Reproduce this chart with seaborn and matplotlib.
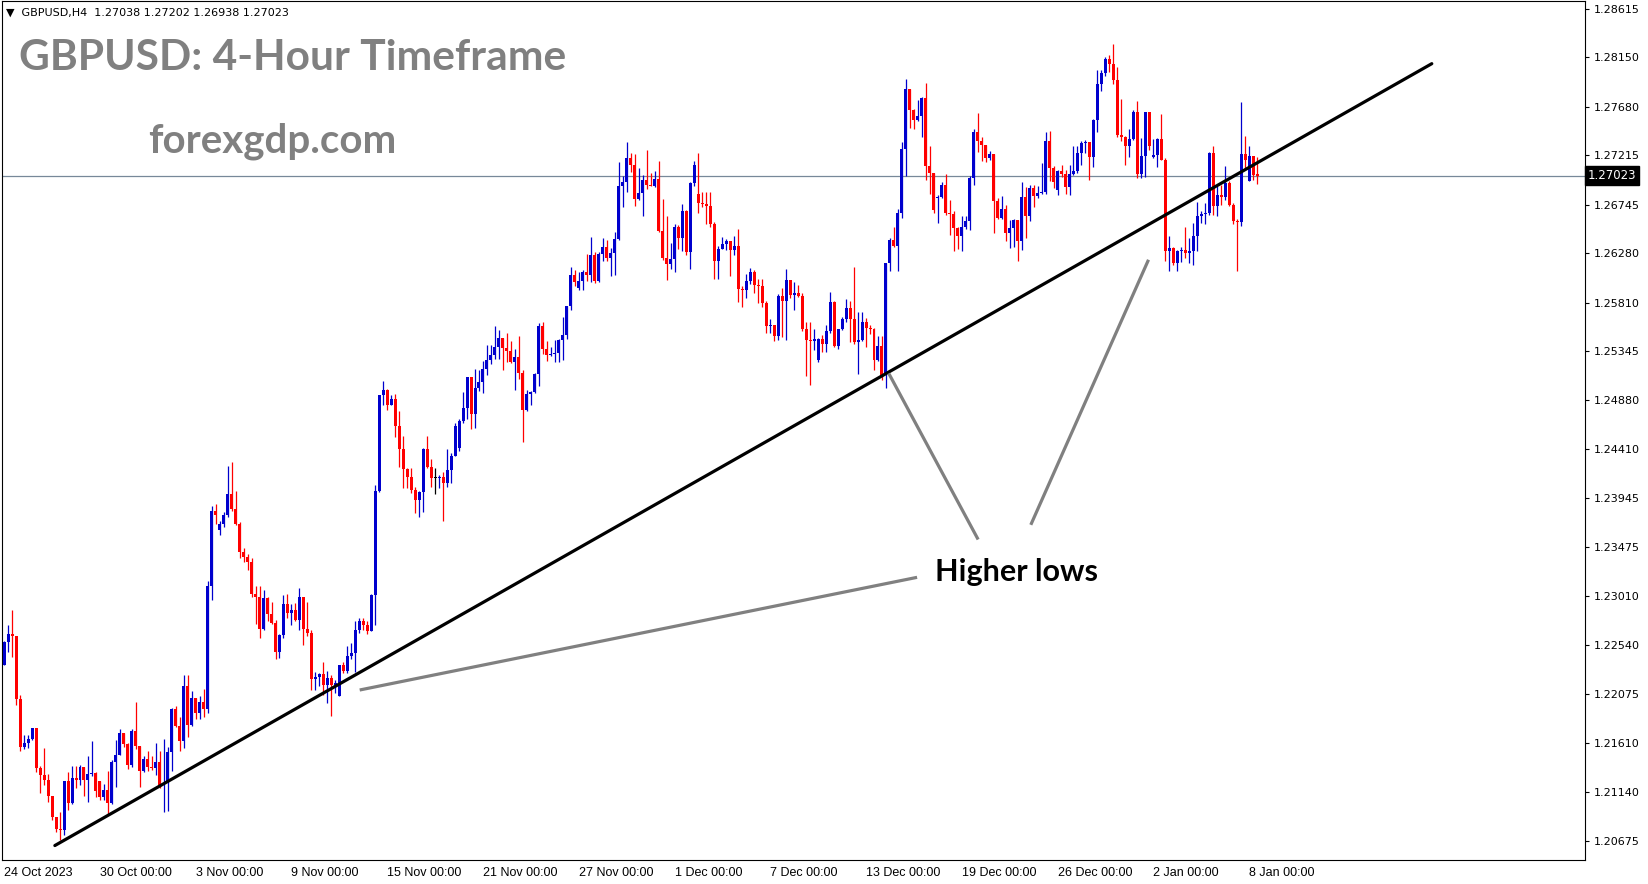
import numpy as np
import pandas as pd
import matplotlib
matplotlib.use("Agg")
import matplotlib.pyplot as plt
import matplotlib.transforms as mtransforms
import seaborn as sns

# GBPUSD H4 candles, 24 Oct 2023 .. 8 Jan 2024
closes = [
    1.2257, 1.2265, 1.2263, 1.2203, 1.2157, 1.2161, 1.2165, 1.2175, 1.2137, 1.2130,
    1.2126, 1.2110, 1.2090, 1.2079, 1.2078, 1.2125, 1.2104, 1.2127, 1.2126, 1.2138,
    1.2126, 1.2131, 1.2132, 1.2115, 1.2109, 1.2116, 1.2104, 1.2143, 1.2149, 1.2170,
    1.2160, 1.2140, 1.2172, 1.2158, 1.2134, 1.2146, 1.2138, 1.2137, 1.2143, 1.2121,
    1.2123, 1.2152, 1.2193, 1.2177, 1.2163, 1.2215, 1.2178, 1.2204, 1.2189, 1.2200,
    1.2193, 1.2311, 1.2382, 1.2378, 1.2370, 1.2378, 1.2398, 1.2384, 1.2370, 1.2343,
    1.2338, 1.2334, 1.2303, 1.2300, 1.2270, 1.2299, 1.2284, 1.2275, 1.2248, 1.2264,
    1.2293, 1.2285, 1.2288, 1.2278, 1.2300, 1.2270, 1.2266, 1.2222, 1.2224, 1.2227,
    1.2216, 1.2223, 1.2216, 1.2218, 1.2235, 1.2230, 1.2244, 1.2247, 1.2269, 1.2277,
    1.2273, 1.2268, 1.2302, 1.2401, 1.2493, 1.2498, 1.2483, 1.2489, 1.2463, 1.2441,
    1.2422, 1.2415, 1.2402, 1.2393, 1.2400, 1.2441, 1.2424, 1.2414, 1.2414, 1.2415,
    1.2409, 1.2421, 1.2435, 1.2463, 1.2468, 1.2480, 1.2510, 1.2475, 1.2500, 1.2505,
    1.2518, 1.2526, 1.2531, 1.2539, 1.2547, 1.2538, 1.2535, 1.2524, 1.2529, 1.2514,
    1.2479, 1.2494, 1.2496, 1.2513, 1.2559, 1.2537, 1.2531, 1.2532, 1.2533, 1.2545,
    1.2550, 1.2578, 1.2607, 1.2601, 1.2602, 1.2610, 1.2607, 1.2626, 1.2602, 1.2627,
    1.2634, 1.2624, 1.2628, 1.2642, 1.2692, 1.2696, 1.2719, 1.2712, 1.2680, 1.2686,
    1.2698, 1.2693, 1.2692, 1.2699, 1.2649, 1.2624, 1.2618, 1.2623, 1.2653, 1.2643,
    1.2668, 1.2629, 1.2695, 1.2712, 1.2676, 1.2675, 1.2673, 1.2656, 1.2621, 1.2632,
    1.2637, 1.2640, 1.2631, 1.2635, 1.2594, 1.2593, 1.2602, 1.2610, 1.2598, 1.2597,
    1.2581, 1.2559, 1.2560, 1.2549, 1.2587, 1.2583, 1.2603, 1.2588, 1.2590, 1.2587,
    1.2556, 1.2545, 1.2544, 1.2546, 1.2546, 1.2542, 1.2554, 1.2582, 1.2540, 1.2556,
    1.2565, 1.2576, 1.2565, 1.2543, 1.2545, 1.2563, 1.2557, 1.2556, 1.2526, 1.2540,
    1.2512, 1.2619, 1.2641, 1.2635, 1.2667, 1.2728, 1.2785, 1.2765, 1.2755, 1.2759,
    1.2776, 1.2711, 1.2705, 1.2669, 1.2682, 1.2693, 1.2667, 1.2666, 1.2652, 1.2645,
    1.2653, 1.2659, 1.2700, 1.2744, 1.2735, 1.2731, 1.2719, 1.2723, 1.2678, 1.2662,
    1.2670, 1.2647, 1.2652, 1.2660, 1.2640, 1.2682, 1.2664, 1.2690, 1.2683, 1.2686,
    1.2687, 1.2735, 1.2709, 1.2696, 1.2707, 1.2704, 1.2691, 1.2704, 1.2707, 1.2724,
    1.2733, 1.2734, 1.2720, 1.2755, 1.2790, 1.2800, 1.2813, 1.2809, 1.2793, 1.2741,
    1.2739, 1.2730, 1.2737, 1.2763, 1.2704, 1.2721, 1.2763, 1.2730, 1.2722, 1.2737,
    1.2717, 1.2630, 1.2633, 1.2619, 1.2630, 1.2631, 1.2628, 1.2630, 1.2645, 1.2664,
    1.2666, 1.2667, 1.2724, 1.2673, 1.2684, 1.2682, 1.2695, 1.2674, 1.2659, 1.2658,
    1.2723, 1.2717, 1.2721, 1.2703, 1.27023,
]

highs = [
    1.2258, 1.2273, 1.2288, 1.2263, 1.2207, 1.2168, 1.2168, 1.2175, 1.2175, 1.2139,
    1.2156, 1.2131, 1.2110, 1.2090, 1.2095, 1.2125, 1.2133, 1.2139, 1.2139, 1.2140,
    1.2138, 1.2148, 1.2163, 1.2133, 1.2125, 1.2122, 1.2134, 1.2145, 1.2164, 1.2174,
    1.2168, 1.2161, 1.2174, 1.2200, 1.2158, 1.2148, 1.2153, 1.2148, 1.2161, 1.2153,
    1.2165, 1.2157, 1.2194, 1.2196, 1.2186, 1.2226, 1.2226, 1.2210, 1.2204, 1.2206,
    1.2212, 1.2315, 1.2387, 1.2389, 1.2373, 1.2381, 1.2425, 1.2429, 1.2401, 1.2372,
    1.2347, 1.2341, 1.2337, 1.2311, 1.2311, 1.2307, 1.2300, 1.2295, 1.2278, 1.2265,
    1.2302, 1.2303, 1.2293, 1.2294, 1.2309, 1.2300, 1.2295, 1.2269, 1.2229, 1.2228,
    1.2238, 1.2230, 1.2226, 1.2221, 1.2235, 1.2238, 1.2253, 1.2256, 1.2277, 1.2280,
    1.2280, 1.2277, 1.2303, 1.2407, 1.2493, 1.2506, 1.2499, 1.2493, 1.2494, 1.2478,
    1.2454, 1.2423, 1.2423, 1.2405, 1.2401, 1.2442, 1.2454, 1.2432, 1.2423, 1.2417,
    1.2419, 1.2441, 1.2438, 1.2466, 1.2470, 1.2496, 1.2510, 1.2510, 1.2518, 1.2517,
    1.2525, 1.2541, 1.2541, 1.2559, 1.2555, 1.2547, 1.2552, 1.2544, 1.2537, 1.2549,
    1.2517, 1.2498, 1.2497, 1.2514, 1.2562, 1.2563, 1.2544, 1.2539, 1.2545, 1.2546,
    1.2567, 1.2578, 1.2615, 1.2612, 1.2610, 1.2612, 1.2627, 1.2644, 1.2629, 1.2629,
    1.2643, 1.2641, 1.2633, 1.2648, 1.2715, 1.2702, 1.2734, 1.2724, 1.2723, 1.2709,
    1.2703, 1.2727, 1.2705, 1.2707, 1.2716, 1.2680, 1.2664, 1.2638, 1.2656, 1.2655,
    1.2675, 1.2669, 1.2696, 1.2716, 1.2724, 1.2687, 1.2687, 1.2687, 1.2658, 1.2635,
    1.2644, 1.2642, 1.2639, 1.2645, 1.2651, 1.2597, 1.2608, 1.2614, 1.2612, 1.2604,
    1.2604, 1.2583, 1.2565, 1.2560, 1.2589, 1.2595, 1.2613, 1.2603, 1.2601, 1.2598,
    1.2590, 1.2563, 1.2563, 1.2556, 1.2547, 1.2550, 1.2560, 1.2591, 1.2583, 1.2556,
    1.2567, 1.2584, 1.2583, 1.2615, 1.2572, 1.2572, 1.2566, 1.2560, 1.2557, 1.2549,
    1.2549, 1.2619, 1.2643, 1.2653, 1.2670, 1.2734, 1.2794, 1.2785, 1.2766, 1.2774,
    1.2777, 1.2791, 1.2730, 1.2705, 1.2684, 1.2696, 1.2704, 1.2679, 1.2668, 1.2653,
    1.2664, 1.2664, 1.2702, 1.2747, 1.2762, 1.2739, 1.2731, 1.2726, 1.2723, 1.2681,
    1.2683, 1.2674, 1.2660, 1.2661, 1.2660, 1.2696, 1.2691, 1.2693, 1.2693, 1.2692,
    1.2714, 1.2744, 1.2745, 1.2711, 1.2708, 1.2712, 1.2708, 1.2712, 1.2730, 1.2730,
    1.2735, 1.2736, 1.2733, 1.2756, 1.2803, 1.2803, 1.2815, 1.2817, 1.2828, 1.2806,
    1.2775, 1.2740, 1.2747, 1.2765, 1.2773, 1.2738, 1.2763, 1.2763, 1.2737, 1.2738,
    1.2761, 1.2719, 1.2645, 1.2634, 1.2631, 1.2634, 1.2653, 1.2643, 1.2657, 1.2677,
    1.2668, 1.2676, 1.2725, 1.2730, 1.2692, 1.2693, 1.2711, 1.2697, 1.2676, 1.2661,
    1.2772, 1.2740, 1.2730, 1.2721, 1.27202,
]

lows = [
    1.2235, 1.2248, 1.2243, 1.2197, 1.2153, 1.2155, 1.2156, 1.2164, 1.2133, 1.2113,
    1.2121, 1.2105, 1.2087, 1.2076, 1.2068, 1.2073, 1.2097, 1.2103, 1.2118, 1.2121,
    1.2110, 1.2105, 1.2129, 1.2109, 1.2106, 1.2106, 1.2092, 1.2103, 1.2119, 1.2149,
    1.2157, 1.2136, 1.2138, 1.2155, 1.2119, 1.2133, 1.2134, 1.2135, 1.2130, 1.2118,
    1.2095, 1.2096, 1.2134, 1.2176, 1.2153, 1.2156, 1.2167, 1.2177, 1.2184, 1.2184,
    1.2186, 1.2189, 1.2297, 1.2370, 1.2359, 1.2367, 1.2376, 1.2382, 1.2369, 1.2337,
    1.2334, 1.2326, 1.2300, 1.2274, 1.2261, 1.2269, 1.2277, 1.2274, 1.2241, 1.2242,
    1.2261, 1.2280, 1.2273, 1.2277, 1.2269, 1.2254, 1.2263, 1.2211, 1.2211, 1.2215,
    1.2207, 1.2199, 1.2187, 1.2209, 1.2206, 1.2228, 1.2228, 1.2241, 1.2229, 1.2266,
    1.2269, 1.2265, 1.2268, 1.2273, 1.2400, 1.2483, 1.2479, 1.2483, 1.2453, 1.2424,
    1.2404, 1.2404, 1.2399, 1.2380, 1.2376, 1.2381, 1.2423, 1.2405, 1.2398, 1.2404,
    1.2373, 1.2405, 1.2409, 1.2435, 1.2439, 1.2466, 1.2470, 1.2460, 1.2461, 1.2497,
    1.2495, 1.2512, 1.2522, 1.2527, 1.2527, 1.2517, 1.2524, 1.2523, 1.2498, 1.2508,
    1.2448, 1.2478, 1.2483, 1.2495, 1.2501, 1.2532, 1.2525, 1.2530, 1.2524, 1.2524,
    1.2526, 1.2546, 1.2574, 1.2597, 1.2593, 1.2593, 1.2602, 1.2601, 1.2600, 1.2601,
    1.2621, 1.2621, 1.2606, 1.2607, 1.2641, 1.2672, 1.2687, 1.2706, 1.2673, 1.2679,
    1.2664, 1.2689, 1.2692, 1.2691, 1.2648, 1.2622, 1.2603, 1.2613, 1.2610, 1.2632,
    1.2630, 1.2626, 1.2613, 1.2692, 1.2667, 1.2672, 1.2656, 1.2653, 1.2604, 1.2604,
    1.2634, 1.2631, 1.2606, 1.2626, 1.2582, 1.2577, 1.2585, 1.2599, 1.2590, 1.2581,
    1.2577, 1.2552, 1.2552, 1.2544, 1.2545, 1.2548, 1.2545, 1.2585, 1.2574, 1.2586,
    1.2554, 1.2511, 1.2502, 1.2536, 1.2524, 1.2534, 1.2534, 1.2552, 1.2539, 1.2537,
    1.2555, 1.2563, 1.2543, 1.2542, 1.2513, 1.2544, 1.2539, 1.2551, 1.2517, 1.2525,
    1.2507, 1.2500, 1.2611, 1.2634, 1.2611, 1.2662, 1.2702, 1.2748, 1.2747, 1.2754,
    1.2739, 1.2698, 1.2685, 1.2667, 1.2657, 1.2681, 1.2665, 1.2646, 1.2630, 1.2632,
    1.2630, 1.2651, 1.2650, 1.2693, 1.2725, 1.2716, 1.2715, 1.2717, 1.2647, 1.2661,
    1.2661, 1.2640, 1.2633, 1.2634, 1.2621, 1.2631, 1.2643, 1.2659, 1.2672, 1.2681,
    1.2685, 1.2685, 1.2697, 1.2690, 1.2684, 1.2701, 1.2685, 1.2684, 1.2703, 1.2705,
    1.2712, 1.2724, 1.2698, 1.2710, 1.2744, 1.2783, 1.2797, 1.2801, 1.2790, 1.2739,
    1.2735, 1.2712, 1.2720, 1.2736, 1.2700, 1.2700, 1.2701, 1.2727, 1.2719, 1.2710,
    1.2717, 1.2621, 1.2611, 1.2617, 1.2611, 1.2620, 1.2624, 1.2619, 1.2617, 1.2630,
    1.2657, 1.2656, 1.2665, 1.2665, 1.2664, 1.2674, 1.2679, 1.2673, 1.2656, 1.2611,
    1.2654, 1.2708, 1.2697, 1.2698, 1.26938,
]

first_open = 1.2235
# weekly / holiday opening gaps (candle index -> open)
gap_opens = {24: 1.2125, 54: 1.2364, 84: 1.2206, 114: 1.2442, 144: 1.2595,
             174: 1.2685, 204: 1.2526, 234: 1.2681, 264: 1.2688, 288: 1.2720,
             312: 1.2697, 314: 1.27038}

date_pos = [0, 24, 48, 72, 96, 120, 144, 168, 192, 216, 240, 264, 288, 312]
date_labels = ["24 Oct 2023", "30 Oct 00:00", "3 Nov 00:00", "9 Nov 00:00",
               "15 Nov 00:00", "21 Nov 00:00", "27 Nov 00:00", "1 Dec 00:00",
               "7 Dec 00:00", "13 Dec 00:00", "19 Dec 00:00", "26 Dec 00:00",
               "2 Jan 00:00", "8 Jan 00:00"]
price_ticks = [1.28615, 1.28150, 1.27680, 1.27215, 1.26745, 1.26280, 1.25810,
               1.25345, 1.24880, 1.24410, 1.23945, 1.23475, 1.23010, 1.22540,
               1.22075, 1.21610, 1.21140, 1.20675]
last_price = 1.27023
header = "▼  GBPUSD,H4  1.27038 1.27202 1.26938 1.27023"

# trend line and the three "higher lows" pointers (candle index, price)
trend_x = [12.7, 357.8]
trend_y = [1.2063, 1.2809]
pointers = [([89.1, 228.8], [1.22114, 1.23189]),
            ([221.7, 244.1], [1.25135, 1.23550]),
            ([286.8, 257.3], [1.26219, 1.23690])]

df = pd.DataFrame({"close": closes, "high": highs, "low": lows})
df["idx"] = np.arange(len(df))
df["open"] = [first_open] + closes[:-1]
for k, v in gap_opens.items():
    df.loc[k, "open"] = v
df["high"] = df[["high", "open", "close"]].max(axis=1)
df["low"] = df[["low", "open", "close"]].min(axis=1)
df["color"] = np.where(df["close"] > df["open"], "#0000CD",
                       np.where(df["close"] < df["open"], "#FF0000", "#000000"))

sns.set_style("white")
plt.rcParams["font.family"] = ["DejaVu Sans"]

W, H = 1649, 884
fig = plt.figure(figsize=(W / 100, H / 100), dpi=100)
ax = fig.add_axes([2 / W, 24 / H, 1583 / W, 859 / H])

ax.axhline(last_price, color="#778899", lw=0.9, zorder=1)

ax.vlines(df["idx"], df["low"], df["high"], colors=df["color"], lw=0.9, zorder=2)
body = (df["close"] - df["open"]).abs().clip(lower=0.00008)
ax.bar(df["idx"], body, bottom=df[["open", "close"]].min(axis=1), width=0.75,
       color=df["color"], linewidth=0, zorder=3)

sns.lineplot(x=trend_x, y=trend_y, color="black", linewidth=2.3, ax=ax, zorder=4)
for px, py in pointers:
    ax.plot(px, py, color="#808080", lw=2.3, solid_capstyle="butt", zorder=4)

ax.set_xlim(-0.55, 396.2)
ax.set_ylim(1.20492, 1.28688)

ax.yaxis.tick_right()
ax.set_yticks(price_ticks)
ax.set_yticklabels([f"{p:.5f}" for p in price_ticks])
ax.tick_params(axis="y", direction="out", length=3, width=0.8, pad=3,
               labelsize=8, colors="black")
ax.set_xticks(date_pos)
ax.set_xticklabels(date_labels)
ax.tick_params(axis="x", direction="out", length=3, width=0.8, pad=2,
               labelsize=9, colors="black")
for lbl in ax.get_xticklabels():
    lbl.set_ha("left")
    lbl.set_fontfamily(["Liberation Sans"])
for sp in ax.spines.values():
    sp.set_visible(True)
    sp.set_color("black")
    sp.set_linewidth(0.8)

trans = mtransforms.blended_transform_factory(ax.transAxes, ax.transData)
ax.text(1.0 + 3 / 1583, last_price, f"{last_price:.5f}", transform=trans,
        ha="left", va="center", color="white", fontsize=8.5, clip_on=False,
        bbox=dict(boxstyle="square,pad=0.22", fc="black", ec="black"), zorder=6)

fig.text(6 / W, 1 - 16 / H, header, fontsize=8, color="black", va="baseline")
fig.text(19 / W, 1 - 70.5 / H, "GBPUSD: 4-Hour Timeframe", fontsize=30.6,
         fontweight="bold", color="#808080", family=["Lato", "DejaVu Sans"],
         va="baseline")
fig.text(148 / W, 1 - 152 / H, "forexgdp.com", fontsize=29, fontweight="bold",
         color="#808080", family=["Lato", "DejaVu Sans"], va="baseline")
fig.text(935 / W, 1 - 581 / H, "Higher lows", fontsize=22, fontweight="bold",
         color="black", family=["Lato", "DejaVu Sans"], va="baseline")

fig.savefig("out.png", dpi=100, facecolor="white")
